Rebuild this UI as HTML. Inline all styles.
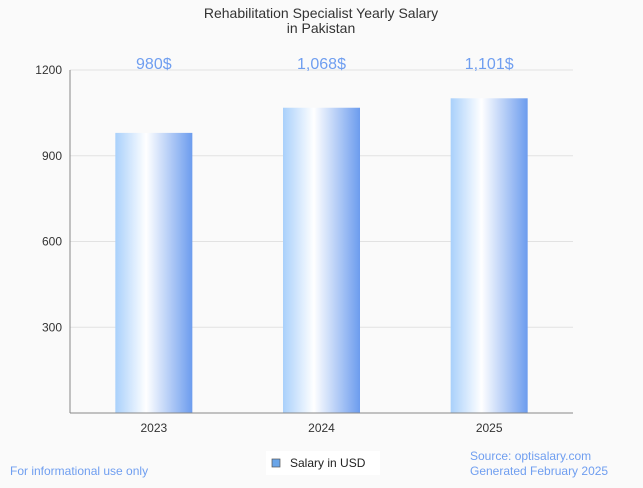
<!DOCTYPE html>
<html><head><meta charset="utf-8"><style>
body{margin:0;background:#fafafa;font-family:"Liberation Sans",sans-serif}
</style></head><body>
<svg width="643" height="483" xmlns="http://www.w3.org/2000/svg" id="chart">
<defs><linearGradient id="g" x1="0" x2="1" y1="0" y2="0">
<stop offset="0" stop-color="#a9d0fb"/><stop offset="0.4" stop-color="#ffffff"/><stop offset="1" stop-color="#6c9cee"/>
</linearGradient></defs>
<rect width="643" height="483" fill="#fafafa"/>
<text x="321" y="18" text-anchor="middle" font-size="14" fill="#333">Rehabilitation Specialist Yearly Salary</text>
<text x="321" y="33" text-anchor="middle" font-size="14" fill="#333">in Pakistan</text>
<g id="grid"></g><g id="bars"></g><g id="xl"></g>
<line x1="70" y1="413" x2="573" y2="413" stroke="#888"/>
<line x1="70" y1="70" x2="70" y2="413" stroke="#888"/>
<rect x="266" y="451" width="114" height="24" fill="#fff"/>
<rect x="272" y="459" width="8" height="8" fill="#6aa5e8" stroke="#555" stroke-width="0.7"/>
<text x="290" y="467" font-size="12" fill="#222">Salary in USD</text>
<text x="10" y="475" font-size="12" fill="#6f9ef0">For informational use only</text>
<text x="470" y="460" font-size="12" fill="#6f9ef0">Source: optisalary.com</text>
<text x="470" y="475" font-size="12" fill="#6f9ef0">Generated February 2025</text>
</svg>
<script>
const categories=["2023","2024","2025"];
const values=[980,1068,1101];
const valueLabels=["980$","1,068$","1,101$"];
const yTicks=[300,600,900,1200];
const ns="http://www.w3.org/2000/svg";
const x0=70,x1=573,yb=413,yt=70,ymax=1200;
const band=(x1-x0)/categories.length,bw=77;
const y=v=>yb-(v/ymax)*(yb-yt);
const xc=i=>x0+band*(i+0.5);
function mk(t,a,p){const e=document.createElementNS(ns,t);for(const k in a)e.setAttribute(k,a[k]);p.appendChild(e);return e;}
const grid=document.getElementById('grid'),bars=document.getElementById('bars'),xl=document.getElementById('xl');
yTicks.forEach(t=>{
 const l=mk('line',{x1:x0,x2:x1,y1:y(t),y2:y(t),stroke:'#e2e2e2'},grid);
 
 
 const tx=mk('text',{x:62,y:y(t)+4,'text-anchor':'end','font-size':12,fill:'#333'},grid);
 tx.textContent=t;
 
 
});
categories.forEach((c,i)=>{
 const r=mk('rect',{x:xc(i)-bw/2,y:y(values[i]),width:bw,height:yb-y(values[i]),fill:'url(#g)'},bars);
 
 
 const v=mk('text',{x:xc(i),y:69,'text-anchor':'middle','font-size':16,fill:'#6f9ef0'},bars);
 v.textContent=valueLabels[i];
 
 
 const t=mk('text',{x:xc(i),y:432,'text-anchor':'middle','font-size':12,fill:'#333'},xl);
 t.textContent=c;
 
 
});
</script>
</body></html>
